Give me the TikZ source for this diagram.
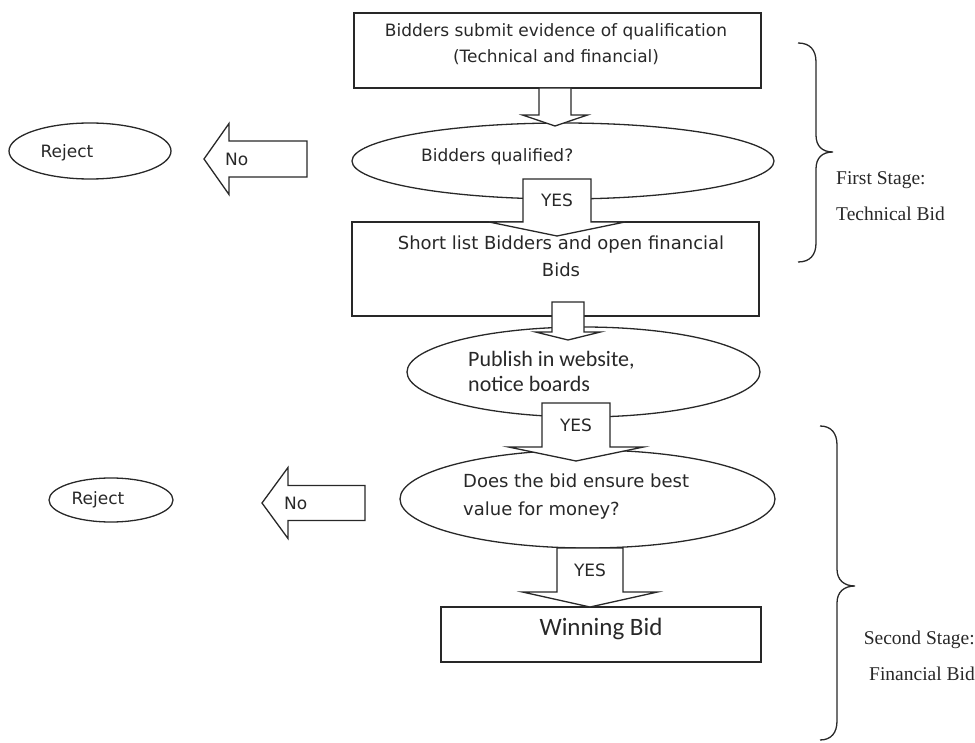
\documentclass[tikz,border=0pt]{standalone}
\usepackage{fontspec}
\setmainfont{DejaVu Sans}
\newfontfamily\calfont{Carlito}
\newfontfamily\garfont{Liberation Serif}
\usetikzlibrary{shapes.geometric}
\definecolor{ink}{RGB}{40,40,40}
\tikzset{
  box/.style={draw=ink,line width=1.3pt,rectangle,inner sep=0pt},
  oval/.style={draw=ink,line width=1.3pt,ellipse,inner sep=0pt},
  blk/.style={draw=ink,line width=1.3pt,fill=white,line join=miter},
  txt/.style={font=\fontsize{17}{26}\selectfont,inner sep=0pt,align=center,text=ink},
  brc/.style={draw=ink,line width=1.3pt},
  stg/.style={font=\garfont\fontsize{19.5}{36}\selectfont,inner sep=0pt,text=ink}
}
% down block arrow: name, x, top, wing, tip, half shaft, half head, text
\newcommand{\downblk}[8]{%
  \draw[blk] ({#2-#6},#3) -- ({#2+#6},#3) -- ({#2+#6},#4) -- ({#2+#7},#4) -- (#2,#5)
    -- ({#2-#7},#4) -- ({#2-#6},#4) -- cycle;
  \node[txt] (#1) at (#2,{(#3+#4)/2}) {#8};}
% left block arrow: name, tip x, y, head back x, tail x, half shaft, half head, text
\newcommand{\leftblk}[8]{%
  \draw[blk] (#2,#3) -- (#4,{#3-#7}) -- (#4,{#3-#6}) -- (#5,{#3-#6}) -- (#5,{#3+#6})
    -- (#4,{#3+#6}) -- (#4,{#3+#7}) -- cycle;
  \node[txt,anchor=west] (#1) at ({#4-4},#3) {#8};}
% stage brace: x end, x line, x tip, y top, y tip, y bottom
\newcommand{\stagebrace}[6]{%
  \draw[brc] (#1,#4) .. controls ({#2-6},#4) and (#2,{#4+7}) .. (#2,{#4+19}) -- (#2,{#5-17})
    .. controls (#2,{#5-6}) and ({#3-11},#5) .. (#3,#5)
    .. controls ({#3-11},#5) and (#2,{#5+6}) .. (#2,{#5+17}) -- (#2,{#6-19})
    .. controls (#2,{#6-7}) and ({#2-6},#6) .. (#1,#6);}
\begin{document}
\begin{tikzpicture}[x=1pt,y=-1pt]
\useasboundingbox (0,0) rectangle (975,743);
% first stage
\node[box,minimum width=407,minimum height=75] (submit) at (557.5,50.5) {};
\node[txt] (submitt) at (556,44) {Bidders submit evidence of qualification\\(Technical and financial)};
\node[oval,minimum width=422,minimum height=76] (qual) at (563,161) {};
\node[txt,anchor=west] (qualt) at (421,157) {Bidders qualified?};
\node[oval,minimum width=162,minimum height=56] (rej1) at (90,151) {};
\node[txt] (rej1t) at (67,153) {Reject};
\node[box,minimum width=407,minimum height=94] (short) at (555.5,269) {};
\node[txt,font=\fontsize{18}{27}\selectfont] (shortt) at (561,256.5) {Short list Bidders and open financial\\Bids};
% second stage
\node[oval,minimum width=353,minimum height=90] (publish) at (583.5,372) {};
\node[txt,font=\calfont\fontsize{22}{25}\selectfont,align=left,anchor=west] (publisht) at (468,371) {Publish in website,\\notice boards};
\node[oval,minimum width=375,minimum height=98] (value) at (587.5,499) {};
\node[txt,font=\fontsize{18}{28}\selectfont,align=left,anchor=west] (valuet) at (463,497) {Does the bid ensure best\\value for money?};
\node[oval,minimum width=124,minimum height=44] (rej2) at (111,500) {};
\node[txt] (rej2t) at (98,500) {Reject};
\node[box,minimum width=320,minimum height=55] (win) at (601,634.5) {};
\node[txt,font=\calfont\fontsize{25}{30}\selectfont] (wint) at (601,629) {Winning Bid};
% block arrows
\downblk{a1}{555}{88}{115}{126}{16}{32.5}{}
\downblk{yes1}{557}{179}{222}{236}{34}{68}{YES}
\downblk{a3}{568}{302}{332}{340}{16}{32.5}{}
\downblk{yes2}{576}{403}{447}{461}{34}{67.5}{YES}
\downblk{yes3}{590}{548}{592}{607}{33}{67.5}{YES}
\leftblk{no1}{204}{159}{229}{307}{18}{35.5}{No}
\leftblk{no2}{262}{503}{288}{365}{17.5}{35.5}{No}
% stages
\stagebrace{798}{816}{833}{43}{152}{262}
\node[stg,align=left,anchor=west] (first) at (836,196) {First Stage:\\Technical Bid};
\stagebrace{820}{837}{855}{426}{586}{740}
\node[stg,align=right,anchor=east] (second) at (975,656) {Second Stage:\\Financial Bid};
\end{tikzpicture}
\end{document}
